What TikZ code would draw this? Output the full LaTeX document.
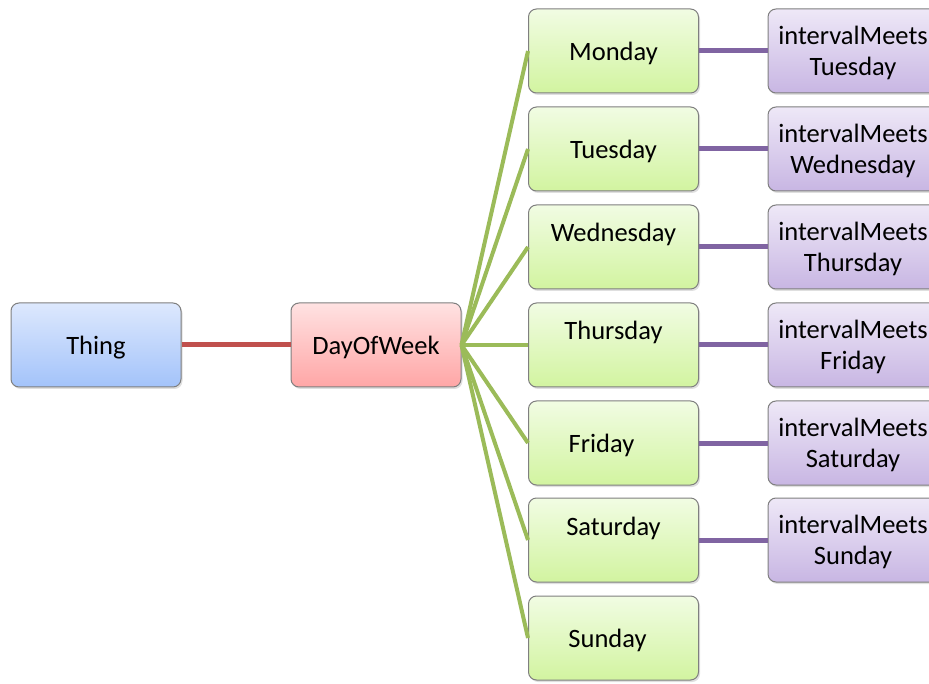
\documentclass[tikz,border=0pt]{standalone}
\usepackage{fontspec}
\setmainfont{Carlito}
\usetikzlibrary{shadows}

\definecolor{edgegray}{HTML}{7F7F7F}
\definecolor{thingtop}{HTML}{DDE8FD}
\definecolor{thingbot}{HTML}{A3C3FA}
\definecolor{classtop}{HTML}{FFE2E2}
\definecolor{classbot}{HTML}{FFA6A6}
\definecolor{daytop}{HTML}{F1FCE3}
\definecolor{daybot}{HTML}{D2F4A0}
\definecolor{meettop}{HTML}{EEE8F7}
\definecolor{meetbot}{HTML}{C8B6E3}
\definecolor{redline}{HTML}{C0504D}
\definecolor{greenline}{HTML}{9BBB59}
\definecolor{purpleline}{HTML}{8064A2}

\tikzset{
  boxbase/.style={rectangle, rounded corners=8pt, draw=edgegray, line width=1pt,
    minimum width=170pt, minimum height=84pt, inner sep=0pt, align=center,
    font=\fontsize{26.5}{31}\selectfont, text depth=0pt,
    drop shadow={shadow xshift=1.5pt, shadow yshift=-2pt, opacity=0.25}},
  thingbox/.style={boxbase, top color=thingtop, bottom color=thingbot},
  classbox/.style={boxbase, top color=classtop, bottom color=classbot},
  daybox/.style={boxbase, top color=daytop, bottom color=daybot},
  meetbox/.style={boxbase, top color=meettop, bottom color=meetbot},
  daylabel/.style={font=\fontsize{26.5}{31}\selectfont, inner sep=0pt, text depth=0pt},
  sublink/.style={redline, line width=5pt},
  daylink/.style={greenline, line width=4pt},
  meetlink/.style={purpleline, line width=5pt}
}

\begin{document}
\begin{tikzpicture}[x=1pt,y=-1pt]
  \useasboundingbox (0,0) rectangle (929,684);
  \clip (0,0) rectangle (929,684);

  % class hierarchy
  \node[thingbox] (thing) at (96,345) {Thing};
  \node[classbox] (dow) at (376,345) {DayOfWeek};

  % individuals of DayOfWeek
  \node[daybox, label={[daylabel, name=monT]center:Monday}] (mon) at (613.5,51) {};
  \node[daybox, label={[daylabel, name=tueT]center:Tuesday}] (tue) at (613.5,149) {};
  \node[daybox, label={[daylabel, name=wedT, yshift=15pt]center:Wednesday}] (wed) at (613.5,247) {};
  \node[daybox, label={[daylabel, name=thuT, yshift=15pt]center:Thursday}] (thu) at (613.5,345) {};
  \node[daybox, label={[daylabel, name=friT, xshift=-12pt]center:Friday}] (fri) at (613.5,443) {};
  \node[daybox, label={[daylabel, name=satT, yshift=14pt]center:Saturday}] (sat) at (613.5,540) {};
  \node[daybox, label={[daylabel, name=sunT, xshift=-6pt]center:Sunday}] (sun) at (613.5,638) {};

  % intervalMeets relations
  \node[meetbox] (m1) at (853,51)  {intervalMeets\\Tuesday};
  \node[meetbox] (m2) at (853,149) {intervalMeets\\Wednesday};
  \node[meetbox] (m3) at (853,247) {intervalMeets\\Thursday};
  \node[meetbox] (m4) at (853,345) {intervalMeets\\Friday};
  \node[meetbox] (m5) at (853,443) {intervalMeets\\Saturday};
  \node[meetbox] (m6) at (853,540) {intervalMeets\\Sunday};

  % connectors
  \draw[sublink] (thing.east) -- (dow.west);
  \foreach \d in {mon,tue,wed,thu,fri,sat,sun}
    \draw[daylink] (dow.east) -- (\d.west);
  \draw[meetlink] (mon.east) -- (m1.west);
  \draw[meetlink] (tue.east) -- (m2.west);
  \draw[meetlink] (wed.east) -- (m3.west);
  \draw[meetlink] (thu.east) -- (m4.west);
  \draw[meetlink] (fri.east) -- (m5.west);
  \draw[meetlink] (sat.east) -- (m6.west);
\end{tikzpicture}
\end{document}
